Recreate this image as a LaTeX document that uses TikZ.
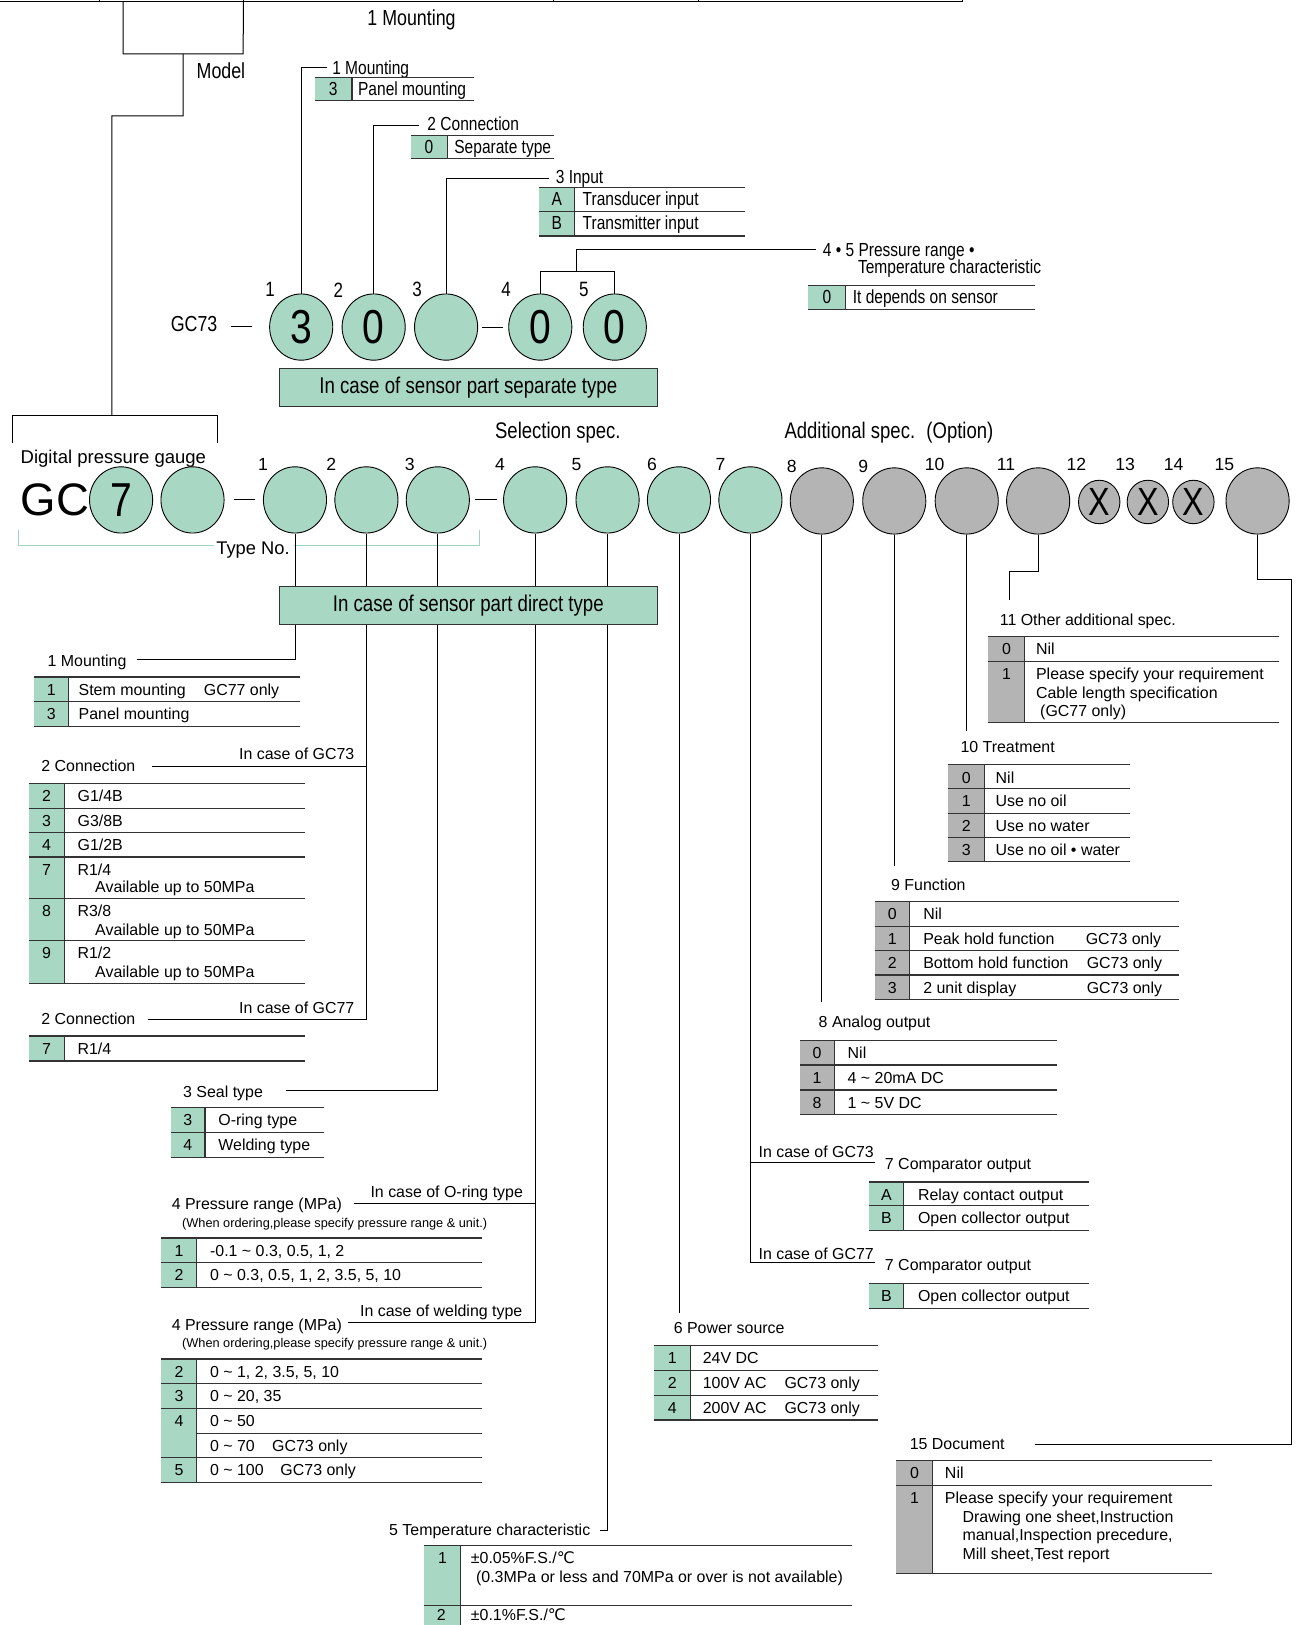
\documentclass[tikz,border=0pt]{standalone}
\usepackage{fontspec}
\setmainfont{Liberation Sans}
\newfontfamily\nf[FakeStretch=0.82]{Liberation Sans}
\newfontfamily\djv{DejaVu Sans}
\usetikzlibrary{shapes.geometric}
\definecolor{gr}{RGB}{168,216,196}
\definecolor{gy}{RGB}{180,180,180}
\definecolor{tyc}{RGB}{160,214,192}
\newcounter{nn}
\newcommand\fsz[1]{\fontsize{#1}{#1}\selectfont}
\newcommand\tld{\textasciitilde}
\def\tfont{\fsz{15.4}}
\def\toff{12}
\newcommand\tx[3]{\stepcounter{nn}\edef\nname{n\arabic{nn}}\node[txt] (\nname) at (#1,#2) {#3};}
\newcommand\trow[8]{%
  \fill[#6] (#1,#4) rectangle (#2,#5);
  \draw[tline] (#1,#4) -- (#3,#4) (#1,#5) -- (#3,#5);
  \draw[tline] (#2,#4) -- (#2,#5);
  \stepcounter{nn}\edef\nname{n\arabic{nn}}%
  \node[txt,anchor=base] (\nname) at ({(#1+#2)/2},{#4+17.5}) {#7};
  \stepcounter{nn}\edef\nname{n\arabic{nn}}%
  \node[txt] (\nname) at ({#2+\toff},{#4+17.5}) {#8};
}
\begin{document}
\begin{tikzpicture}[x=1pt,y=-1pt,scale=1.035,transform shape,
 lk/.style={draw=black, line width=1pt},
 tline/.style={draw=black!80, line width=1.2pt},
 txt/.style={inner sep=0pt, outer sep=0pt, anchor=base west, font=\tfont},
 circ/.style={ellipse, draw=black, line width=0.9pt, inner sep=0pt, minimum width=61, minimum height=64},
 gc/.style={circ, fill=gr, font=\nf\fsz{46}},
 yc/.style={circ, fill=gy},
 xcirc/.style={ellipse, draw=black, line width=0.9pt, fill=gy, inner sep=0pt, minimum width=40, minimum height=42, font=\nf\fsz{38}},
 boxst/.style={draw=black!80, line width=1.1pt, fill=gr, minimum width=365, minimum height=37, inner sep=0pt, font=\nf\fsz{22}},
 num/.style={inner sep=0pt, font=\fsz{17}},
 tyno/.style={draw=tyc, line width=1.3pt}]
\useasboundingbox (0,0) rectangle (1261.8,1570);

% ---------- top strip and model box ----------
\draw[lk] (0,1.5) -- (930,1.5);
\foreach \x in {96,235,535,675,930} \draw[lk] (\x,-2) -- (\x,1.5);
\coordinate (mb1) at (119,1.5);
\coordinate (mb2) at (235,1.5);
\draw[lk] (mb1) -- (119,52) -- (235,52) -- (mb2);
\coordinate (mbm) at (177,52);
\coordinate (brk) at (108,401);
\draw[lk] (mbm) -- (177,112) -- (108,112) -- (brk);
\draw[lk] (12,428) -- (12,401) -- (210,401) -- (210,428);
\node[txt, font=\nf\fsz{21}] (topm) at (355,24.5) {1 Mounting};
\node[txt, font=\nf\fsz{21}] (model) at (190,75.5) {Model};

% ---------- separate type section ----------
\coordinate (e1s) at (316,65);
\coordinate (e2s) at (405,121);
\coordinate (e3s) at (530,172);
\coordinate (b45) at (557,262);
\coordinate (e45) at (788,241);
\node[gc] (s1) at (291,316) {3};
\node[gc] (s2) at (361,316) {0};
\node[gc] (s3) at (431,316) {};
\node[gc] (s4) at (522,316) {0};
\node[gc] (s5) at (594,316) {0};
\draw[lk] (s1.north) |- (e1s);
\draw[lk] (s2.north) |- (e2s);
\draw[lk] (s3.north) |- (e3s);
\draw[lk] (s4.north) |- (b45) -| (s5.north);
\draw[lk] (b45) |- (e45);
\foreach \t/\x in {1/261,2/327,3/403,4/489,5/564}
  \node[num, font=\nf\fsz{20}] (sk\t) at (\x,280) {\t};
\node[txt, font=\nf\fsz{21}] (gc73) at (165,320.5) {GC73};
\coordinate (d1a) at (223,315); \coordinate (d1b) at (243,315);
\draw[lk] (d1a) -- (d1b);
\coordinate (d2a) at (466,316); \coordinate (d2b) at (486,316);
\draw[lk] (d2a) -- (d2b);
\node[boxst] (bsep) at (452.5,374.5) {In case of sensor part separate type};

\def\tfont{\nf\fsz{18.3}}
\node[txt] (l1s) at (321,71.5) {1 Mounting};
\node[txt] (l2s) at (413,126.5) {2 Connection};
\node[txt] (l3s) at (537,177.5) {3 Input};
\node[txt] (l45a) at (795,247.5) {4 • 5 Pressure range •};
\node[txt] (l45b) at (829,264.5) {Temperature characteristic};
\def\toff{6}
\trow{304}{340}{458}{75}{97}{gr}{3}{Panel mounting}
\def\toff{7}
\trow{397}{432}{535}{131}{153}{gr}{0}{Separate type}
\def\toff{8}
\trow{521}{555}{720}{181}{204}{gr}{A}{Transducer input}
\trow{521}{555}{720}{204}{228}{gr}{B}{Transmitter input}
\def\toff{7}
\trow{781}{817}{1000}{276}{299}{gr}{0}{It depends on sensor}

% ---------- main row ----------
\def\tfont{\fsz{15.4}}
\node[txt, anchor=base, font=\nf\fsz{21.8}] (sel) at (539,424) {Selection spec.};
\node[txt, font=\nf\fsz{21.8}] (add) at (758,424) {Additional spec.\hspace{0.5em}(Option)};
\node[txt, font=\fsz{17.9}] (dpg) at (20,447.4) {Digital pressure gauge};
\node[txt, font=\fsz{44}] (gc) at (20,498) {GC};
\node[gc] (g7) at (117,483) {7};
\node[gc] (g8) at (186,483) {};
\foreach \n/\x in {1/285,2/354,3/423,4/517,5/587,6/656,7/725}
  \node[gc] (m\n) at (\x,483) {};
\foreach \n/\x in {8/794,9/864,10/934,11/1003,15/1215}
  \node[yc] (m\n) at (\x,484) {};
\foreach \n/\x in {12/1062,13/1109,14/1153}
  \node[xcirc] (m\n) at (\x,485) {X};
\foreach \t/\x/\y in {1/254/449,2/320/449,3/396/449,4/483/449,5/557/449,6/630/449,7/696/449,8/765/451,9/834/451,10/903/449,11/972/449,12/1040/449,13/1087/449,14/1134/449,15/1183/449}
  \node[num] (k\t) at (\x,\y) {\t};
\coordinate (d3a) at (226,483); \coordinate (d3b) at (246,483);
\draw[lk] (d3a) -- (d3b);
\coordinate (d4a) at (459,483); \coordinate (d4b) at (480,483);
\draw[lk] (d4a) -- (d4b);
% Type No. bracket
\node[txt, font=\fsz{17.7}] (tyn) at (209,536) {Type No.};
\draw[tyno] (18,512) -- (18,527) -- (207,527);
\draw[tyno] (284,527) -- (463,527) -- (463,512);

% ---------- leaders ----------
\coordinate (e1) at (132,637);
\coordinate (e2a) at (147,740);
\coordinate (e2b) at (143,985);
\coordinate (e3) at (276,1053);
\coordinate (e4a) at (342,1163);
\coordinate (e4b) at (336,1278);
\coordinate (e5) at (580,1478);
\coordinate (e6) at (656,1268);
\coordinate (e7a) at (845,1123);
\coordinate (e7b) at (845,1220);
\coordinate (e8) at (794,968);
\coordinate (e9) at (864,837);
\coordinate (e10) at (934,706);
\coordinate (b11) at (975,552);
\coordinate (e11) at (975,580);
\coordinate (b15) at (1248,560);
\coordinate (e15) at (1000,1395);
\draw[lk] (m1.south) |- (e1);
\draw[lk] (m2.south) |- (e2a);
\draw[lk] (m2.south) |- (e2b);
\draw[lk] (m3.south) |- (e3);
\draw[lk] (m4.south) |- (e4a);
\draw[lk] (m4.south) |- (e4b);
\draw[lk] (m5.south) |- (e5);
\draw[lk] (m6.south) -- (e6);
\draw[lk] (m7.south) |- (e7a);
\draw[lk] (m7.south) |- (e7b);
\draw[lk] (m8.south) -- (e8);
\draw[lk] (m9.south) -- (e9);
\draw[lk] (m10.south) -- (e10);
\draw[lk] (m11.south) |- (b11) -- (e11);
\draw[lk] (m15.south) |- (b15) |- (e15);
\node[boxst, minimum height=36] (bdir) at (452.5,585) {In case of sensor part direct type};

% ---------- left tables ----------
\tx{46}{643.5}{1 Mounting}
\def\toff{10}
\trow{33}{66}{290}{654}{678}{gr}{1}{Stem mounting}
\tx{197}{671.5}{GC77 only}
\trow{33}{66}{290}{678}{702}{gr}{3}{Panel mounting}

\tx{40}{745.5}{2 Connection}
\tx{231}{733.5}{In case of GC73}
\def\toff{13}
\trow{28}{62}{295}{757}{781}{gr}{2}{G1/4B}
\trow{28}{62}{295}{781}{804}{gr}{3}{G3/8B}
\trow{28}{62}{295}{804}{828}{gr}{4}{G1/2B}
\trow{28}{62}{295}{828}{868}{gr}{7}{R1/4}
\tx{92}{862.5}{Available up to 50MPa}
\trow{28}{62}{295}{868}{909}{gr}{8}{R3/8}
\tx{92}{903.5}{Available up to 50MPa}
\trow{28}{62}{295}{909}{950}{gr}{9}{R1/2}
\tx{92}{944.5}{Available up to 50MPa}

\tx{40}{989.5}{2 Connection}
\tx{231}{979.5}{In case of GC77}
\trow{28}{62}{295}{1001}{1025}{gr}{7}{R1/4}

\tx{177}{1060.5}{3 Seal type}
\trow{165}{198}{313}{1070}{1094}{gr}{3}{O-ring type}
\trow{165}{198}{313}{1094}{1118}{gr}{4}{Welding type}

\tx{166}{1168.5}{4 Pressure range (MPa)}
\tx{358}{1156.5}{In case of O-ring type}
\tx{176}{1186}{\fsz{12.3}(When ordering,please specify pressure range \& unit.)}
\trow{156}{190}{466}{1196}{1220}{gr}{1}{-0.1 \tld{} 0.3, 0.5, 1, 2}
\trow{156}{190}{466}{1220}{1244}{gr}{2}{0 \tld{} 0.3, 0.5, 1, 2, 3.5, 5, 10}

\tx{166}{1285.5}{4 Pressure range (MPa)}
\tx{348}{1271.5}{In case of welding type}
\tx{176}{1302}{\fsz{12.3}(When ordering,please specify pressure range \& unit.)}
\trow{156}{190}{466}{1313}{1337}{gr}{2}{0 \tld{} 1, 2, 3.5, 5, 10}
\trow{156}{190}{466}{1337}{1361}{gr}{3}{0 \tld{} 20, 35}
\trow{156}{190}{466}{1361}{1408}{gr}{4}{0 \tld{} 50}
\draw[tline] (190,1385) -- (466,1385);
\tx{203}{1402.5}{0 \tld{} 70}
\tx{263}{1402.5}{GC73 only}
\trow{156}{190}{466}{1408}{1432}{gr}{5}{0 \tld{} 100}
\tx{271}{1425.5}{GC73 only}

\tx{376}{1483.5}{5 Temperature characteristic}
\def\toff{10}
\trow{410}{445}{823}{1493}{1551}{gr}{1}{±0.05\%F.S./{\djv ℃}}
\tx{460}{1528.5}{(0.3MPa or less and 70MPa or over is not available)}
\trow{410}{445}{823}{1551}{1610}{gr}{}{}
\tx{422}{1566}{2}
\tx{455}{1566}{±0.1\%F.S./{\djv ℃}}

% ---------- right tables ----------
\tx{966}{604.5}{11 Other additional spec.}
\def\toff{11}
\trow{955}{990}{1236}{615}{639}{gy}{0}{Nil}
\trow{955}{990}{1236}{639}{698}{gy}{1}{Please specify your requirement}
\tx{1001}{674.5}{Cable length specification}
\tx{1005}{692.5}{(GC77 only)}

\tx{928}{727.5}{10 Treatment}
\trow{916}{951}{1092}{739}{762}{gy}{0}{Nil}
\trow{916}{951}{1092}{762}{786}{gy}{1}{Use no oil}
\trow{916}{951}{1092}{786}{809}{gy}{2}{Use no water}
\trow{916}{951}{1092}{809}{832}{gy}{3}{Use no oil • water}

\tx{861}{860.5}{9 Function}
\def\toff{13}
\trow{845}{879}{1139}{871}{895}{gy}{0}{Nil}
\trow{845}{879}{1139}{895}{918}{gy}{1}{Peak hold function}
\tx{1049}{912.5}{GC73 only}
\trow{845}{879}{1139}{918}{942}{gy}{2}{Bottom hold function}
\tx{1050}{935.5}{GC73 only}
\trow{845}{879}{1139}{942}{966}{gy}{3}{2 unit display}
\tx{1050}{959.5}{GC73 only}

\tx{791}{992.5}{8 Analog output}
\trow{773}{806}{1021}{1005}{1029}{gy}{0}{Nil}
\trow{773}{806}{1021}{1029}{1053}{gy}{1}{4 \tld{} 20mA DC}
\trow{773}{806}{1021}{1053}{1077}{gy}{8}{1 \tld{} 5V DC}

\tx{733}{1118.5}{In case of GC73}
\tx{855}{1129.5}{7 Comparator output}
\def\toff{14}
\trow{840}{873}{1052}{1142}{1165}{gr}{A}{Relay contact output}
\trow{840}{873}{1052}{1165}{1189}{gr}{B}{Open collector output}
\tx{733}{1216.5}{In case of GC77}
\tx{855}{1227.5}{7 Comparator output}
\trow{840}{873}{1052}{1240}{1264}{gr}{B}{Open collector output}

\tx{651}{1288.5}{6 Power source}
\def\toff{12}
\trow{632}{667}{848}{1300}{1324}{gr}{1}{24V DC}
\trow{632}{667}{848}{1324}{1348}{gr}{2}{100V AC}
\tx{758}{1341.5}{GC73 only}
\trow{632}{667}{848}{1348}{1372}{gr}{4}{200V AC}
\tx{758}{1365.5}{GC73 only}

\tx{879}{1400.5}{15 Document}
\trow{866}{901}{1171}{1411}{1435}{gy}{0}{Nil}
\trow{866}{901}{1171}{1435}{1520}{gy}{1}{Please specify your requirement}
\tx{930}{1470.5}{Drawing one sheet,Instruction}
\tx{930}{1488.5}{manual,Inspection precedure,}
\tx{930}{1506.5}{Mill sheet,Test report}
\end{tikzpicture}
\end{document}
